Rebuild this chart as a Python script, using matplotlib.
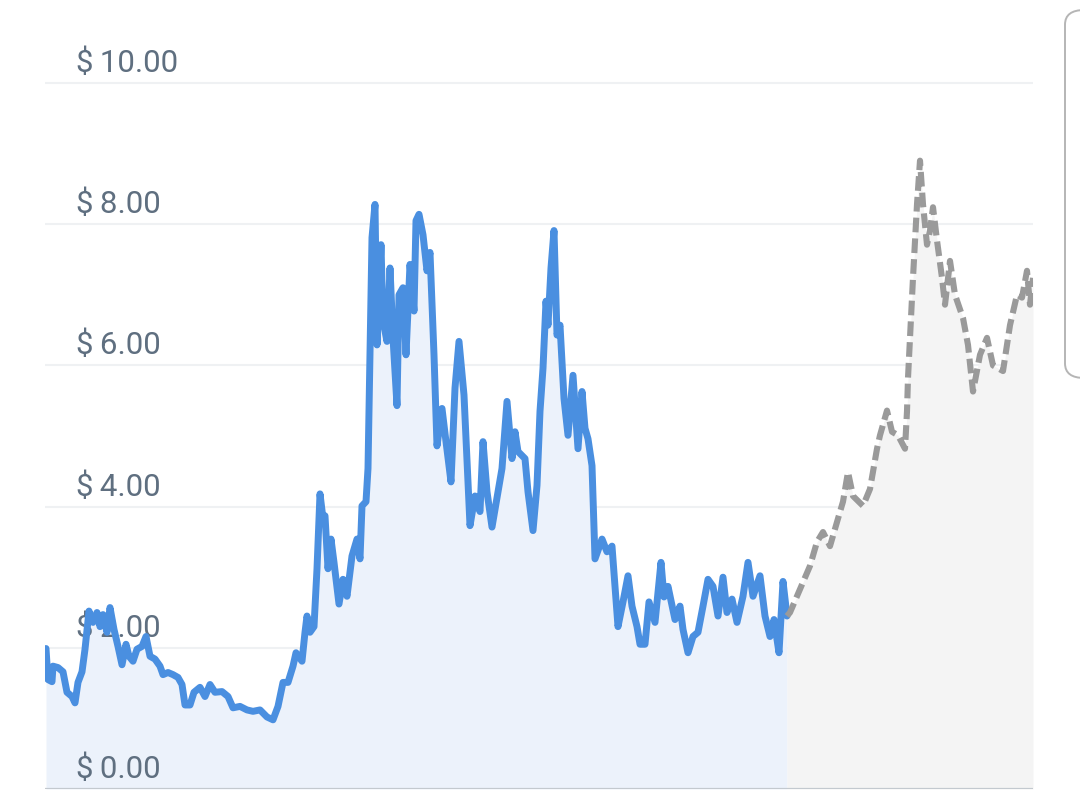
import matplotlib
matplotlib.use("Agg")
import matplotlib.pyplot as plt
from matplotlib.patches import FancyBboxPatch

# ---- data: day index and price in $ ----
hist_days_a = [46, 48, 52, 53, 58, 63, 67, 72, 75, 78, 82, 85, 89, 93, 97, 100, 103, 107, 110, 114,
               118, 122, 126, 129, 133, 137, 142, 146, 150, 155, 160, 163, 168, 173, 178, 182, 185,
               190, 194, 200, 205, 210, 215, 222, 228, 233, 240, 247, 253, 260, 267, 273, 278]
hist_price_a = [1.99, 1.55, 1.52, 1.74, 1.72, 1.66, 1.37, 1.31, 1.22, 1.51, 1.66, 1.98, 2.52, 2.36,
                2.50, 2.30, 2.47, 2.22, 2.57, 2.26, 2.02, 1.76, 2.05, 1.88, 1.81, 1.98, 2.02, 2.16,
                1.88, 1.84, 1.74, 1.62, 1.65, 1.62, 1.58, 1.48, 1.19, 1.19, 1.37, 1.44, 1.31, 1.48,
                1.37, 1.38, 1.31, 1.15, 1.17, 1.12, 1.10, 1.12, 1.02, 0.98, 1.17]

hist_days_b = [283, 288, 293, 296, 302, 305, 307, 310, 314, 317, 320, 323, 325, 328, 331, 334, 339,
               343, 347, 352, 357, 360, 362, 366]
hist_price_b = [1.51, 1.51, 1.74, 1.93, 1.81, 2.22, 2.45, 2.22, 2.30, 3.12, 4.18, 3.83, 3.87, 3.12,
                3.54, 3.21, 2.62, 2.97, 2.73, 3.30, 3.54, 3.26, 4.01, 4.07]

hist_days_c = [368, 370, 372, 375, 377, 381, 383, 387, 390, 393, 397, 399, 403, 406, 410, 414, 416,
               419, 423, 427, 430, 434, 437, 442, 446, 451, 455, 459, 464]
hist_price_c = [4.54, 6.15, 7.81, 8.28, 6.29, 7.71, 6.63, 6.34, 7.38, 6.39, 5.43, 7.00, 7.10, 6.15,
                7.43, 6.77, 8.05, 8.14, 7.85, 7.34, 7.60, 6.15, 4.86, 5.39, 4.92, 4.35, 5.68, 6.34,
                5.58]

hist_days_d = [470, 475, 480, 483, 487, 492, 498, 502, 507, 512, 515, 518, 525, 528, 533, 537, 540,
               543, 546, 548, 551, 554, 557, 560, 564, 568, 573, 578, 582, 585, 588, 592, 595, 602,
               607]
hist_price_d = [3.73, 4.15, 3.93, 4.92, 4.21, 3.71, 4.21, 4.54, 5.49, 4.68, 5.06, 4.78, 4.68, 4.21,
                3.66, 4.30, 5.35, 5.96, 6.91, 6.57, 7.38, 7.91, 6.43, 6.57, 5.53, 5.01, 5.86, 4.82,
                5.63, 5.11, 4.96, 4.58, 3.26, 3.54, 3.36]

hist_days_e = [612, 615, 618, 623, 628, 632, 637, 640, 645, 649, 655, 661, 664, 668, 675, 680, 683,
               688, 693, 698, 703, 708, 713, 718, 723, 727, 732, 737, 743, 748, 753, 760, 765, 770,
               774, 779, 783, 787]
hist_price_e = [3.44, 2.87, 2.30, 2.65, 3.02, 2.59, 2.30, 2.05, 2.05, 2.65, 2.36, 3.21, 2.72, 2.87,
                2.40, 2.59, 2.26, 1.93, 2.16, 2.22, 2.59, 2.97, 2.87, 2.45, 3.00, 2.50, 2.69, 2.36,
                2.73, 3.21, 2.73, 3.02, 2.45, 2.16, 2.40, 1.93, 2.94, 2.45]

forecast_days = [787, 790, 800, 810, 817, 823, 830, 838, 843, 848, 853, 863, 870, 877, 880, 887, 892,
                 898, 905, 907, 908, 913, 917, 920, 923, 927, 930, 933, 937, 942, 945, 950, 955, 963,
                 968, 973, 980, 987, 993, 1003, 1010, 1017, 1022, 1027, 1030, 1033]
forecast_price = [2.45, 2.50, 2.83, 3.16, 3.50, 3.64, 3.44, 3.83, 4.07, 4.49, 4.15, 4.01, 4.25, 4.82,
                  5.01, 5.36, 5.06, 5.01, 4.82, 5.35, 5.82, 7.24, 8.28, 8.90, 8.28, 7.71, 7.91, 8.24,
                  7.77, 7.24, 6.86, 7.48, 7.00, 6.67, 6.29, 5.63, 6.15, 6.39, 6.00, 5.92, 6.57, 7.00,
                  6.96, 7.34, 6.86, 7.24]

y_ticks = [0, 2, 4, 6, 8, 10]
y_labels = ["$\u20090.00", "$\u20092.00", "$\u20094.00", "$\u20096.00", "$\u20098.00", "$\u200910.00"]

hist_days = hist_days_a + hist_days_b + hist_days_c + hist_days_d + hist_days_e
hist_price = hist_price_a + hist_price_b + hist_price_c + hist_price_d + hist_price_e

# ---- styling ----
plt.rcParams['font.family'] = ['Roboto', 'DejaVu Sans']
BLUE = "#4A8FE0"
BLUE_FILL = "#ECF2FB"
GRAY = "#9A9A9A"
GRAY_FILL = "#F4F4F4"
LABEL = "#5F6F80"

fig = plt.figure(figsize=(10.8, 8.1), dpi=100)
ax = fig.add_axes([45 / 1080, 21 / 810, 988 / 1080, 789 / 810])
ax.set_xlim(45, 1033)
ax.set_ylim(0, 789 / 70.6)
ax.axis('off')

# grid lines
for t in y_ticks[1:]:
    ax.axhline(t, color="#EFF1F3", lw=1.5, zorder=0)
ax.axhline(0, color="#C3C9CF", lw=1.6, zorder=5)

# fills
ax.fill_between(hist_days, hist_price, 0, color=BLUE_FILL, lw=0, zorder=1)
ax.fill_between(forecast_days, forecast_price, 0, color=GRAY_FILL, lw=0, zorder=1)

# lines
ax.plot(hist_days, hist_price, color=BLUE, lw=5.0, solid_joinstyle='round',
        solid_capstyle='round', zorder=3)
ax.plot(forecast_days, forecast_price, color=GRAY, lw=4.4, linestyle=(0, (2.4, 1.0)), zorder=3)

# tick labels (inside plot, above gridlines)
for t, lab in zip(y_ticks, y_labels):
    ax.annotate(lab, xy=(45, t), xytext=(31 * 0.72, 11 * 0.72), textcoords='offset points',
                ha='left', va='baseline', fontsize=22.5, color=LABEL, zorder=2,
                annotation_clip=False)

# partial legend box at right edge
box = FancyBboxPatch((1065 / 1080, (810 - 378) / 810), 60 / 1080, 368 / 810,
                     boxstyle="round,pad=0,rounding_size=0.018",
                     transform=fig.transFigure, facecolor="white", edgecolor="#B5B5B5",
                     lw=1.4, clip_on=False)
fig.patches.append(box)

fig.savefig("out.png", dpi=100, facecolor="white")
